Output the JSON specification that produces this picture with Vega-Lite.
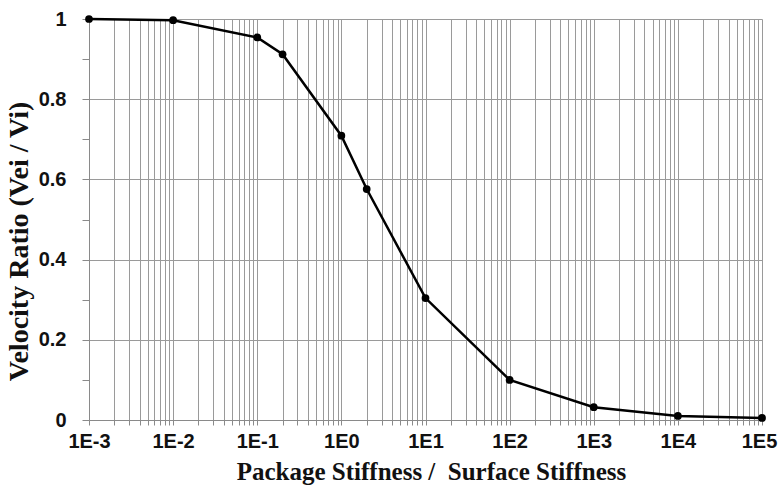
{
  "$schema": "https://vega.github.io/schema/vega-lite/v6.json",
  "width": 673,
  "height": 401,
  "autosize": {"type": "none"},
  "padding": {"left": 89, "top": 19, "right": 16, "bottom": 65},
  "background": "white",
  "config": {
    "view": {"stroke": null},
    "axis": {
      "labelFont": "Liberation Sans",
      "labelFontWeight": "bold",
      "labelFontSize": 20,
      "labelColor": "#111",
      "titleFont": "Liberation Serif",
      "titleFontWeight": "bold",
      "titleColor": "#111",
      "gridColor": "#9a9a9a",
      "gridWidth": 1,
      "gridOpacity": 1,
      "domainColor": "#8a8a8a",
      "tickColor": "#8a8a8a"
    }
  },
  "data": {
    "values": [
      {"x": 0.001, "y": 1.0},
      {"x": 0.01, "y": 0.997},
      {"x": 0.1, "y": 0.954},
      {"x": 0.2, "y": 0.912},
      {"x": 1, "y": 0.709},
      {"x": 2, "y": 0.576},
      {"x": 10, "y": 0.304},
      {"x": 100, "y": 0.1},
      {"x": 1000, "y": 0.032},
      {"x": 10000, "y": 0.01},
      {"x": 100000, "y": 0.005}
    ]
  },
  "encoding": {
    "x": {
      "field": "x",
      "type": "quantitative",
      "scale": {"type": "log", "domain": [0.001, 100000], "nice": false},
      "axis": {
        "title": "Package Stiffness / \u00a0Surface Stiffness",
        "titleFontSize": 25,
        "titleX": 342,
        "titleY": 59,
        "titleAnchor": null,
        "titleAlign": "center",
        "titleBaseline": "alphabetic",
        "grid": true,
        "values": [0.001,0.002,0.003,0.004,0.005,0.006,0.007,0.008,0.009,
                   0.01,0.02,0.03,0.04,0.05,0.06,0.07,0.08,0.09,
                   0.1,0.2,0.3,0.4,0.5,0.6,0.7,0.8,0.9,
                   1,2,3,4,5,6,7,8,9,
                   10,20,30,40,50,60,70,80,90,
                   100,200,300,400,500,600,700,800,900,
                   1000,2000,3000,4000,5000,6000,7000,8000,9000,
                   10000,20000,30000,40000,50000,60000,70000,80000,90000,
                   100000],
        "labelExpr": "abs(log(datum.value)/LN10 - round(log(datum.value)/LN10)) < 0.001 ? '1E' + round(log(datum.value)/LN10) : ''",
        "labelOffset": {"condition": {"test": "datum.value > 50000", "value": -3}, "value": 0},
        "labelOverlap": false,
        "labelFlush": false,
        "labelBound": false,
        "tickSize": 5,
        "labelPadding": 6
      }
    },
    "y": {
      "field": "y",
      "type": "quantitative",
      "scale": {"domain": [0, 1], "nice": false},
      "axis": {
        "title": "Velocity Ratio (Vei / Vi)",
        "titleFontSize": 28,
        "titleX": -70,
        "titleY": 222,
        "titleAngle": -90,
        "titleAlign": "center",
        "titleBaseline": "middle",
        "grid": true,
        "values": [0, 0.1, 0.2, 0.3, 0.4, 0.5, 0.6, 0.7, 0.8, 0.9, 1],
        "gridOpacity": {"condition": {"test": "round(datum.value*10) % 2 == 0", "value": 1}, "value": 0},
        "labelExpr": "round(datum.value*10) % 2 == 0 ? format(datum.value, '~g') : ''",
        "labelOverlap": false,
        "labelFlush": false,
        "tickSize": 7,
        "labelPadding": 16
      }
    }
  },
  "layer": [
    {"mark": {"type": "line", "color": "black", "strokeWidth": 2.5}},
    {"mark": {"type": "point", "filled": true, "color": "black", "opacity": 1, "size": 60}}
  ]
}
